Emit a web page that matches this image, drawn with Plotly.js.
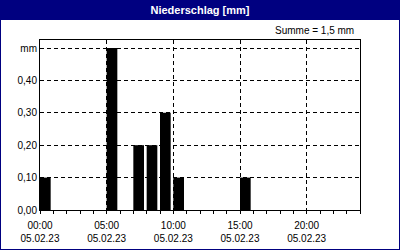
<!DOCTYPE html>
<html><head><meta charset="utf-8">
<script src="https://cdn.plot.ly/plotly-3.0.1.min.js"></script>
<style>html,body{margin:0;padding:0;background:#fff}#chart{width:400px;height:250px}</style>
</head><body><div id="chart"></div>
<script>
// Data
const times = ['2023-02-05 00:00','2023-02-05 05:00','2023-02-05 07:00','2023-02-05 08:00','2023-02-05 09:00','2023-02-05 10:00','2023-02-05 15:00'];
const values = [0.10, 0.50, 0.20, 0.20, 0.30, 0.10, 0.10];
const yTickVals = [0, 0.1, 0.2, 0.3, 0.4, 0.5];
const yTickText = ['0,00','0,10','0,20','0,30','0,40','mm'];
const titleText = 'Niederschlag [mm]';
const sumText = 'Summe = 1,5 mm';
const xRange = ['2023-02-05 00:00','2023-02-06 00:00'];

const HOUR = 3600000;
const navy = '#000080';
const font = 'Liberation Sans, Arial, sans-serif';

// geometry helpers (plot area 40..360 x, 40..210 y)
const px = v => (v - 40) / 320;
const py = v => (210 - v) / 170;

const trace = {
  type: 'bar', x: times, y: values,
  width: values.map(() => 0.8 * HOUR), offset: 0,
  marker: {color: '#000000', line: {width: 0}},
  hoverinfo: 'skip'
};

const layout = {
  width: 400, height: 250,
  margin: {l: 40, r: 40, t: 40, b: 40},
  paper_bgcolor: '#ffffff', plot_bgcolor: '#ffffff',
  showlegend: false,
  font: {family: font, size: 10, color: '#000'},
  title: {text: titleText, font: {family: font, size: 11, weight: 'bold', color: '#ffffff'},
          x: 0.5, xanchor: 'center', y: 1 - 10/250, yanchor: 'middle', yref: 'container'},
  xaxis: {
    type: 'date', range: xRange,
    tick0: '2023-02-05 00:00', dtick: 5 * HOUR,
    tickformat: '%H:%M<br>%d.%m.%y',
    ticks: 'outside', ticklen: 3, tickcolor: '#000', tickwidth: 1,
    ticklabelstandoff: 3,
    minor: {dtick: HOUR, ticks: 'outside', ticklen: 3, tickcolor: '#000', showgrid: false},
    showgrid: true, gridcolor: '#000', gridwidth: 1, griddash: '4px,3px',
    showline: true, linecolor: '#000', linewidth: 1, mirror: true,
    zeroline: false, fixedrange: true,
    tickfont: {family: font, size: 10, color: '#000'}
  },
  yaxis: {
    range: [0, 0.5247], tickmode: 'array', tickvals: yTickVals, ticktext: yTickText,
    ticks: '', showgrid: true, gridcolor: '#000', gridwidth: 1, griddash: '4px,3px',
    showline: true, linecolor: '#000', linewidth: 1, mirror: true,
    zeroline: false, fixedrange: true,
    tickfont: {family: font, size: 10, color: '#000'}
  },
  shapes: [
    {type: 'rect', xref: 'paper', yref: 'paper', layer: 'below',
     x0: px(0), x1: px(400), y0: py(20), y1: py(0),
     fillcolor: navy, line: {width: 0}},
    {type: 'line', xref: 'paper', yref: 'paper', x0: px(0.5), x1: px(0.5), y0: py(250), y1: py(20), line: {color: navy, width: 1}},
    {type: 'line', xref: 'paper', yref: 'paper', x0: px(399.5), x1: px(399.5), y0: py(250), y1: py(20), line: {color: navy, width: 1}},
    {type: 'line', xref: 'paper', yref: 'paper', x0: px(0), x1: px(400), y0: py(249.5), y1: py(249.5), line: {color: navy, width: 1}}
  ],
  annotations: [
    {text: sumText, xref: 'paper', yref: 'paper', x: px(356), y: py(31),
     xanchor: 'right', yanchor: 'middle', showarrow: false,
     font: {family: font, size: 10, color: '#000'}}
  ]
};

Plotly.newPlot('chart', [trace], layout, {staticPlot: true, displayModeBar: false});
</script></body></html>
